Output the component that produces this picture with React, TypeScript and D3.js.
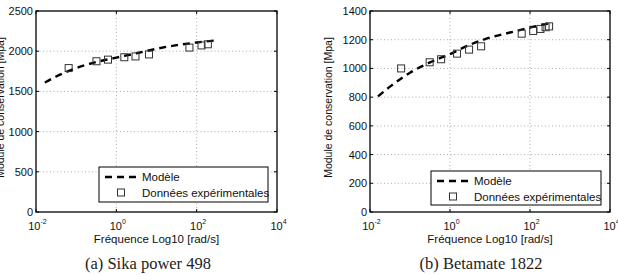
import React from "react";
import * as d3 from "d3";

// Storage modulus measurements (frequency in rad/s, modulus in MPa)
const sikaFreq = [0.065, 0.32, 0.62, 1.58, 3.0, 6.5, 66, 132, 190];
const sikaModulus = [1790, 1875, 1895, 1925, 1935, 1960, 2045, 2072, 2086];
const sikaModelLogFreq = [-1.78, -1.5, -1, -0.5, 0, 0.5, 1, 1.5, 2, 2.5];
const sikaModel = [1610, 1685, 1790, 1865, 1920, 1974, 2030, 2075, 2108, 2135];

const betaFreq = [0.06, 0.31, 0.6, 1.5, 3.0, 6.0, 62, 120, 182, 245, 300];
const betaModulus = [1000, 1043, 1064, 1103, 1131, 1154, 1242, 1261, 1275, 1287, 1293];
const betaModelLogFreq = [-1.8, -1.5, -1, -0.5, 0, 0.5, 1, 1.5, 2, 2.5];
const betaModel = [805, 873, 970, 1042, 1100, 1165, 1215, 1250, 1285, 1315];

const xTicks = [1e-2, 1, 1e2, 1e4];
const xTickExponents = ["-2", "0", "2", "4"];
const sikaYTicks = [0, 500, 1000, 1500, 2000, 2500];
const betaYTicks = [0, 200, 400, 600, 800, 1000, 1200, 1400];

const sans = "'Liberation Sans', Arial, sans-serif";
const serif = "'Liberation Serif', 'Times New Roman', serif";

interface PanelProps {
  left: number;
  right: number;
  yMax: number;
  yTicks: number[];
  freq: number[];
  modulus: number[];
  modelLogFreq: number[];
  model: number[];
  yLabelX: number;
  legend: { x0: number; x1: number; y0: number; y1: number };
  caption: string;
  captionX: number;
}

const Panel: React.FC<PanelProps> = (p) => {
  const top = 11;
  const bottom = 212;
  const x = d3.scaleLog().domain([1e-2, 1e4]).range([p.left, p.right]);
  const y = d3.scaleLinear().domain([0, p.yMax]).range([bottom, top]);

  const modelPts = p.modelLogFreq.map((lf, i) => [x(Math.pow(10, lf)), y(p.model[i])] as [number, number]);
  const modelPath = d3.line().curve(d3.curveMonotoneX)(modelPts) || "";

  const midX = (p.left + p.right) / 2;
  const midY = (top + bottom) / 2;
  const lg = p.legend;

  return (
    <g>
      {/* grid */}
      {p.yTicks.slice(1, -1).map((t) => (
        <line key={"gy" + t} x1={p.left} x2={p.right} y1={y(t)} y2={y(t)}
          stroke="#999" strokeWidth={0.8} strokeDasharray="1,2.5" />
      ))}
      {xTicks.slice(1, -1).map((t) => (
        <line key={"gx" + t} x1={x(t)} x2={x(t)} y1={top} y2={bottom}
          stroke="#999" strokeWidth={0.8} strokeDasharray="1,2.5" />
      ))}
      {/* tick marks */}
      {p.yTicks.map((t) => (
        <g key={"ty" + t}>
          <line x1={p.left} x2={p.left + 3} y1={y(t)} y2={y(t)} stroke="#000" />
          <line x1={p.right} x2={p.right - 3} y1={y(t)} y2={y(t)} stroke="#000" />
          <text x={p.left - 3} y={y(t) + 4} textAnchor="end" fontSize={11} fontFamily={sans} fill="#111">{t}</text>
        </g>
      ))}
      {xTicks.map((t, i) => (
        <g key={"tx" + t}>
          <line x1={x(t)} x2={x(t)} y1={bottom} y2={bottom - 3} stroke="#000" />
          <line x1={x(t)} x2={x(t)} y1={top} y2={top + 3} stroke="#000" />
          <text x={x(t) + 1.5} y={230} textAnchor="middle" fontSize={11} fontFamily={sans} fill="#111">
            10<tspan dy={-6} fontSize={7}>{xTickExponents[i]}</tspan>
          </text>
        </g>
      ))}
      {/* model curve */}
      <path d={modelPath} fill="none" stroke="#000" strokeWidth={2.4} strokeDasharray="7,5" />
      {/* measurements */}
      {p.freq.map((f, i) => (
        <rect key={"m" + i} x={x(f) - 3.5} y={y(p.modulus[i]) - 3.5} width={7} height={7}
          fill="none" stroke="#333" strokeWidth={1} />
      ))}
      {/* axes box */}
      <rect x={p.left} y={top} width={p.right - p.left} height={bottom - top}
        fill="none" stroke="#000" strokeWidth={1.3} />
      {/* legend */}
      <rect x={lg.x0} y={lg.y0} width={lg.x1 - lg.x0} height={lg.y1 - lg.y0}
        fill="#fff" stroke="#000" strokeWidth={1} />
      <line x1={lg.x0 + 6} x2={lg.x0 + 39} y1={lg.y0 + 10} y2={lg.y0 + 10}
        stroke="#000" strokeWidth={2.4} strokeDasharray="7,5" />
      <text x={lg.x0 + 43} y={lg.y0 + 14} fontSize={11.5} fontFamily={sans} fill="#111">Modèle</text>
      <rect x={lg.x0 + 22 - 3.5} y={lg.y0 + 25.5 - 3.5} width={7} height={7}
        fill="none" stroke="#333" strokeWidth={1} />
      <text x={lg.x0 + 43} y={lg.y0 + 29.5} fontSize={11.5} fontFamily={sans} fill="#111">Données expérimentales</text>
      {/* axis labels */}
      <text x={midX} y={243} textAnchor="middle" fontSize={11.5} fontFamily={sans} fill="#111">
        Fréquence Log10 [rad/s]
      </text>
      <text transform={`translate(${p.yLabelX},${midY - 4}) rotate(-90)`} textAnchor="middle"
        fontSize={10.5} fontFamily={sans} fill="#111">
        Module de conservation [Mpa]
      </text>
      <text x={p.captionX} y={269} textAnchor="middle" fontSize={16.5} fontFamily={serif} fill="#222">
        {p.caption}
      </text>
    </g>
  );
};

export default function App() {
  return (
    <svg width={618} height={275} style={{ position: "absolute", left: 0, top: 0, background: "#fff" }}>
      <rect width={618} height={275} fill="#fff" />
      <Panel left={36} right={277} yMax={2500} yTicks={sikaYTicks}
        freq={sikaFreq} modulus={sikaModulus} modelLogFreq={sikaModelLogFreq} model={sikaModel}
        yLabelX={4} legend={{ x0: 99, x1: 268, y0: 167, y1: 202 }}
        caption="(a) Sika power 498" captionX={148} />
      <Panel left={370} right={610} yMax={1400} yTicks={betaYTicks}
        freq={betaFreq} modulus={betaModulus} modelLogFreq={betaModelLogFreq} model={betaModel}
        yLabelX={332} legend={{ x0: 431, x1: 601, y0: 171, y1: 205 }}
        caption="(b) Betamate 1822" captionX={481} />
    </svg>
  );
}
